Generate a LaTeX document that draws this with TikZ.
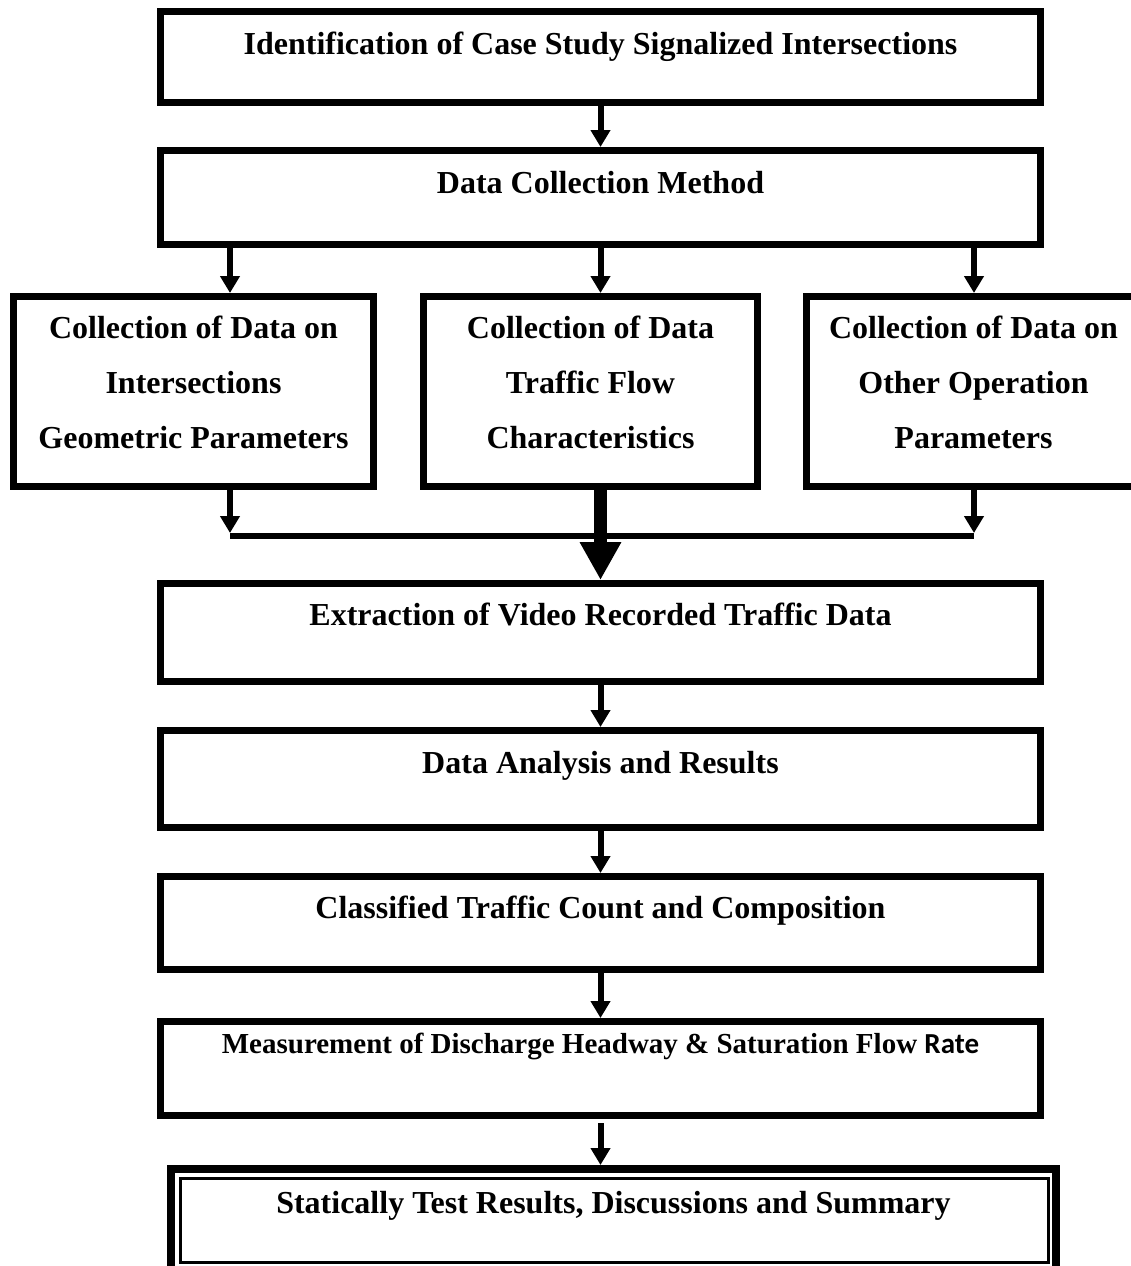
\documentclass[tikz,border=0pt]{standalone}
\usepackage{fontspec}
\setmainfont{Liberation Serif}
\newfontfamily\carlito{Carlito}
\usetikzlibrary{arrows.meta,calc}
\begin{document}
\begin{tikzpicture}[x=1pt,y=-1pt,
  box/.style={draw, line width=7pt, outer sep=3.5pt, inner sep=0pt, minimum width=880pt,
    font=\fontsize{32pt}{38pt}\selectfont\bfseries, anchor=base},
  colbox/.style={draw, line width=7pt, outer sep=3.5pt, inner sep=0pt,
    font=\fontsize{32pt}{55pt}\selectfont\bfseries, anchor=base,
    text height=41.5pt, text depth=148.5pt},
  arr/.style={line width=6pt, -{Triangle[width=19pt,length=17pt]}},
  bigarr/.style={line width=13pt, -{Triangle[width=39pt,length=38pt]}}]
\useasboundingbox (0,0) rectangle (1131,1266);
\fill[white] (0,0) rectangle (1131,1266);
\clip (0,0) rectangle (1131,1266);

\node[box, text height=42.5pt, text depth=48.5pt] (b1) at (600.5,54) {Identification of Case Study Signalized Intersections};
\node[box, text height=42.5pt, text depth=51.5pt] (b2) at (600.5,193) {Data Collection Method};

\node[colbox, minimum width=360pt] (c1) at (193.5,338)
  {\begin{tabular}[t]{@{}c@{}}Collection of Data on\\Intersections\\Geometric Parameters\end{tabular}};
\node[colbox, minimum width=334pt] (c2) at (590.5,338)
  {\begin{tabular}[t]{@{}c@{}}Collection of Data\\Traffic Flow\\Characteristics\end{tabular}};
\node[colbox, minimum width=334pt] (c3) at (973.5,338)
  {\begin{tabular}[t]{@{}c@{}}Collection of Data on\\Other Operation\\Parameters\end{tabular}};

\node[box, text height=41.5pt, text depth=56.5pt] (b4) at (600.5,625) {Extraction of Video Recorded Traffic Data};
\node[box, text height=42.5pt, text depth=54.5pt] (b5) at (600.5,773) {Data Analysis and Results};
\node[box, text height=41.5pt, text depth=51.5pt] (b6) at (600.5,918) {Classified Traffic Count and Composition};
\node[box, text height=31.5pt, text depth=62.5pt, font=\fontsize{29pt}{35pt}\selectfont\bfseries] (b7) at (600.5,1053)
  {Measurement of Discharge Headway \& Saturation Flow {\carlito Rate}};
\node[box, line width=8pt, outer sep=4pt, minimum width=885pt, text height=44pt, text depth=58pt] (b8) at (613.5,1213)
  {Statically Test Results, Discussions and Summary};
\draw[line width=3pt] ($(b8.north west)+(13,13.5)$) rectangle ($(b8.south east)+(-12,-13)$);

\coordinate (xl) at (230,0);
\coordinate (xr) at (974,0);
\coordinate (ml) at (230,536);
\coordinate (mr) at (974,536);

\draw[arr] (b1.south) -- (b2.north);
\draw[arr] (b2.south -| xl) -- (c1.north -| xl);
\draw[arr] (b2.south) -- (c2.north -| b2.south);
\draw[arr] (b2.south -| xr) -- (c3.north -| xr);
\draw[arr, shorten >=3pt] (c1.south -| xl) -- (ml);
\draw[arr, shorten >=3pt] (c3.south -| xr) -- (mr);
\draw[line width=6pt] (ml) -- (mr);
\draw[bigarr] (c2.south -| b4.north) -- (b4.north);
\draw[arr] (b4.south) -- (b5.north);
\draw[arr] (b5.south) -- (b6.north);
\draw[arr] (b6.south) -- (b7.north);
\draw[arr, shorten <=4pt] (b7.south) -- (b8.north -| b7.south);
\end{tikzpicture}
\end{document}
